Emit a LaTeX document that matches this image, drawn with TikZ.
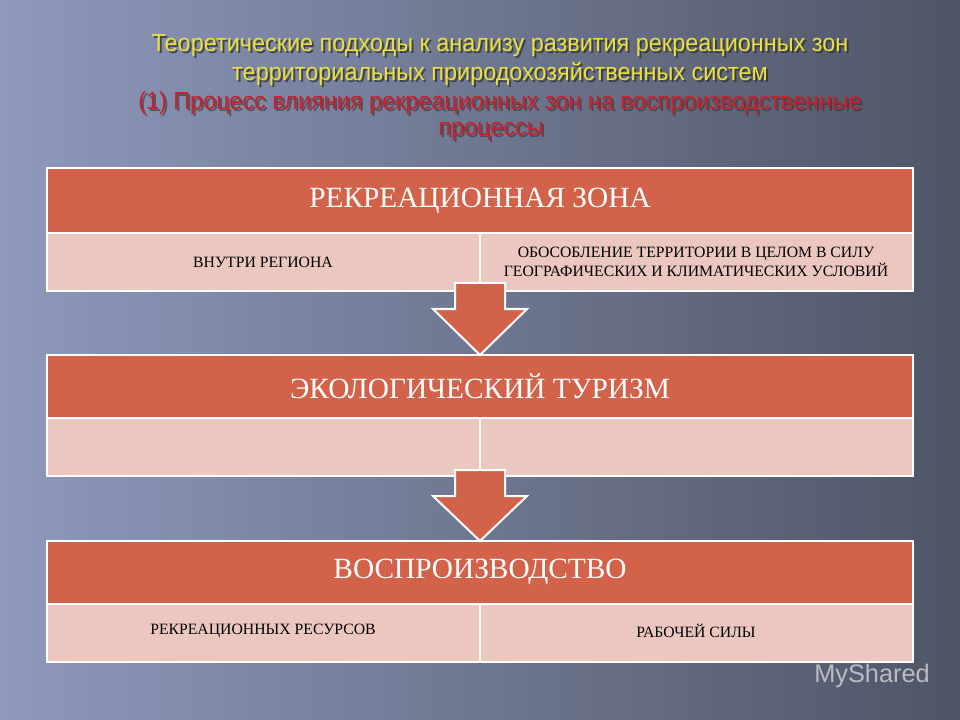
\documentclass[tikz,border=0pt]{standalone}
\usepackage{fontspec}
\setmainfont{Liberation Serif}
\newfontfamily\titlefont{Liberation Sans}
\usetikzlibrary{shadings}
\definecolor{hdr}{HTML}{D2624A}
\definecolor{sub}{HTML}{EBC7C0}
\definecolor{ttl}{HTML}{E8E040}
\definecolor{ttr}{HTML}{C8202A}
\definecolor{bgA}{HTML}{8E99BC}
\definecolor{bgB}{HTML}{4F5566}
\tikzset{
  hcell/.style={fill=hdr,draw=white,line width=1.2pt},
  scell/.style={fill=sub,draw=white,line width=1.2pt},
  htext/.style={font=\fontsize{22}{26}\selectfont,text=white},
  stext/.style={font=\fontsize{11.8}{14}\selectfont,text=black,align=center},
  arr/.style={fill=hdr,draw=white,line width=1.5pt},
  ttext/.style={font=\titlefont\fontsize{18.5}{22}\selectfont,align=center}
}
\begin{document}
\begin{tikzpicture}[x=0.75pt,y=-0.75pt]
\useasboundingbox (0,0) rectangle (960,720);
\shade[left color=bgA,right color=bgB] (0,0) rectangle (960,720);
% title
\node[ttext,text=black!80,opacity=0.8] at (502,48) {\scalebox{0.95}[1]{Теоретические подходы к анализу развития рекреационных зон}};
\node[ttext,text=ttl] (t1) at (500,46) {\scalebox{0.95}[1]{Теоретические подходы к анализу развития рекреационных зон}};
\node[ttext,text=black!80,opacity=0.8] at (502,76) {\scalebox{0.95}[1]{территориальных природохозяйственных систем}};
\node[ttext,text=ttl] (t2) at (500,74) {\scalebox{0.95}[1]{территориальных природохозяйственных систем}};
\node[ttext,text=black!80,opacity=0.6] at (502,105) {\scalebox{0.95}[1]{(1) Процесс влияния рекреационных зон на воспроизводственные}};
\node[ttext,text=ttr] (t3) at (500,103) {\scalebox{0.95}[1]{(1) Процесс влияния рекреационных зон на воспроизводственные}};
\node[ttext,text=black!80,opacity=0.6] at (493,133) {\scalebox{0.95}[1]{процессы}};
\node[ttext,text=ttr] (t4) at (491,131) {\scalebox{0.95}[1]{процессы}};
% block 1
\draw[hcell] (47,168) rectangle (913,233);
\draw[scell] (47,233) rectangle (480,291);
\draw[scell] (480,233) rectangle (913,291);
% arrow 1
\draw[arr] (455,283) -- (505,283) -- (505,309) -- (527,309) -- (480,355) -- (433,309) -- (455,309) -- cycle;
% block 2
\draw[hcell] (47,355) rectangle (913,418);
\draw[scell] (47,418) rectangle (480,476);
\draw[scell] (480,418) rectangle (913,476);
% arrow 2
\draw[arr] (455,470) -- (505,470) -- (505,496) -- (527,496) -- (480,541) -- (433,496) -- (455,496) -- cycle;
% block 3
\draw[hcell] (47,541) rectangle (913,604);
\draw[scell] (47,604) rectangle (480,662);
\draw[scell] (480,604) rectangle (913,662);
% texts
\node[htext] (h1) at (480,201) {РЕКРЕАЦИОННАЯ ЗОНА};
\node[stext] (s1) at (263,262) {ВНУТРИ РЕГИОНА};
\node[stext] (s2) at (696,262) {ОБОСОБЛЕНИЕ ТЕРРИТОРИИ В ЦЕЛОМ В СИЛУ\\ГЕОГРАФИЧЕСКИХ И КЛИМАТИЧЕСКИХ УСЛОВИЙ};
\node[htext] (h2) at (480,386) {ЭКОЛОГИЧЕСКИЙ ТУРИЗМ};
\node[htext] (h3) at (480,572) {ВОСПРОИЗВОДСТВО};
\node[stext] (s3) at (263,631) {РЕКРЕАЦИОННЫХ РЕСУРСОВ};
\node[stext] (s4) at (696,631) {РАБОЧЕЙ СИЛЫ};
\node[font=\titlefont\fontsize{19}{22}\selectfont,text=white!80!gray,opacity=0.7] (wm) at (872,676) {MyShared};
\end{tikzpicture}
\end{document}
